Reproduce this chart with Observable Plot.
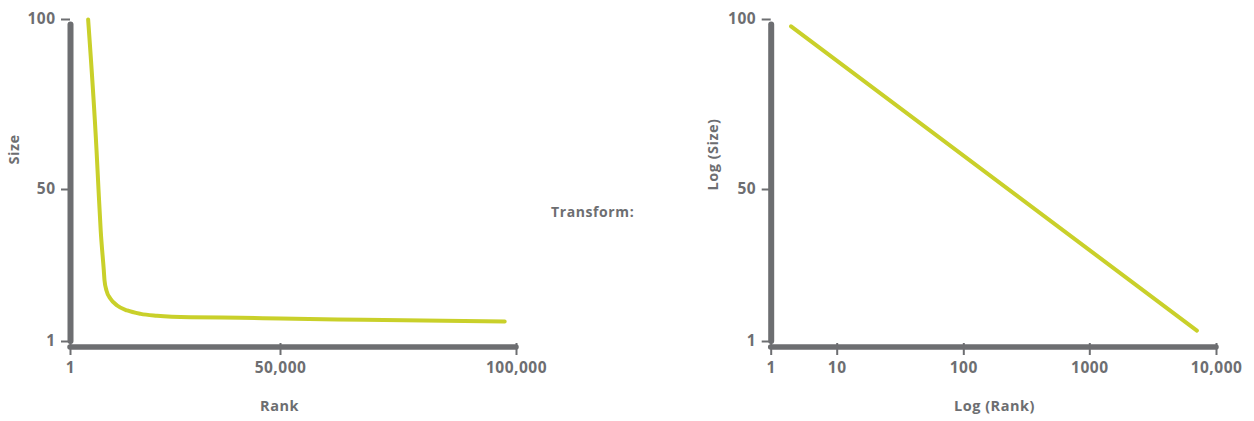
<!DOCTYPE html>
<html>
<head>
<meta charset="utf-8">
<script src="https://cdn.jsdelivr.net/npm/d3@7"></script>
<script src="https://cdn.jsdelivr.net/npm/@observablehq/plot@0.6"></script>
<style>
  html, body { margin: 0; padding: 0; background: #fff; }
  #wrap { position: relative; width: 1254px; height: 421px; overflow: hidden; font-family: "Open Sans", Lato, sans-serif; }
  #left, #right { position: absolute; top: 0; }
  #left { left: 0; }
  #right { left: 640px; }
  #transform { position: absolute; left: 551px; top: 202px; font-size: 14px; font-weight: 700; letter-spacing: 0.6px; color: #6d6e71; white-space: nowrap; }
</style>
</head>
<body>
<div id="wrap">
  <div id="left"></div>
  <div id="transform">Transform:</div>
  <div id="right"></div>
</div>
<script>
// ---- data ----
const linearRank = [4200, 6200, 6670, 7190, 7930, 8100, 8570, 9520, 11100, 13500, 16700, 20600, 28600, 40500, 50000, 67600, 97500];
const linearSize = [100, 61.5, 50, 36.8, 23.9, 20.7, 17.4, 14.8, 12.6, 11.0, 9.9, 9.3, 8.8, 8.65, 8.4, 8.0, 7.45];
const logRank = [2, 7000];
const logSize = [98, 4.5];

const sizeTicks = [1, 50, 100];
const rankTicks = [1, 50000, 100000];
const logRankTicks = [1, 10, 100, 1000, 10000];
const logRankLabels = ["1", "10", "100", "1000", "10,000"];

const GRAY = "#6d6e71";
const LINE = "#c9d02a";
const FONT = "'Open Sans', Lato, sans-serif";

const leftData = linearRank.map((r, i) => ({rank: r, size: linearSize[i]}));
const rightData = logRank.map((r, i) => ({rank: r, size: logSize[i]}));

const svgStyle = {fontFamily: FONT, fontSize: "15.5px", fontWeight: "700", letterSpacing: "0.5px", color: GRAY, background: "transparent", overflow: "visible"};

// ---- left chart ----
const left = Plot.plot({
  width: 640, height: 421,
  marginLeft: 70, marginRight: 124, marginTop: 19, marginBottom: 78,
  style: svgStyle,
  x: {type: "linear", domain: [1, 50000, 100000], range: [70, 280, 516], axis: null},
  y: {type: "linear", domain: [1, 50, 100], range: [341, 189, 19], axis: null},
  marks: [
    Plot.axisY({ticks: sizeTicks, tickSize: 9, tickPadding: 6, strokeWidth: 2, stroke: GRAY, fill: GRAY, label: null, tickFormat: d3.format(",")}),
    Plot.axisX({ticks: rankTicks, tickSize: 12, tickPadding: 6, strokeWidth: 2, stroke: GRAY, fill: GRAY, label: null, tickFormat: d3.format(",")}),
    Plot.ruleX([1], {y1: 1, y2: 100, stroke: GRAY, strokeWidth: 6, strokeLinecap: "round", insetBottom: -5.5}),
    Plot.ruleY([1], {x1: 1, x2: 100000, dy: 5.5, stroke: GRAY, strokeWidth: 5.5, strokeLinecap: "round"}),
    Plot.line(leftData, {x: "rank", y: "size", stroke: LINE, strokeWidth: 4, strokeLinecap: "round", curve: "monotone-x"}),
    Plot.text(["Size"], {frameAnchor: "left", dx: -56, dy: -17, rotate: -90, fill: GRAY, fontSize: 14.5, fontWeight: 700}),
    Plot.text(["Rank"], {frameAnchor: "bottom", dx: -14, dy: 67, fill: GRAY, fontSize: 14.5, fontWeight: 700})
  ]
});
document.getElementById("left").append(left);

// ---- right chart ----
const right = Plot.plot({
  width: 614, height: 421,
  marginLeft: 130.7, marginRight: 38, marginTop: 19, marginBottom: 78,
  style: svgStyle,
  x: {type: "log", domain: [1, 10, 100, 1000, 10000], range: [130.7, 196.7, 323.3, 449.3, 576], axis: null},
  y: {type: "linear", domain: [1, 50, 100], range: [341, 189, 19], axis: null},
  marks: [
    Plot.axisY({ticks: sizeTicks, tickSize: 9, tickPadding: 6, strokeWidth: 2, stroke: GRAY, fill: GRAY, label: null, tickFormat: d3.format(",")}),
    Plot.axisX({ticks: logRankTicks, tickSize: 12, tickPadding: 6, strokeWidth: 2, stroke: GRAY, fill: GRAY, label: null, tickFormat: d => logRankLabels[logRankTicks.indexOf(d)]}),
    Plot.ruleX([1], {y1: 1, y2: 100, stroke: GRAY, strokeWidth: 6, strokeLinecap: "round", insetBottom: -5.5}),
    Plot.ruleY([1], {x1: 1, x2: 10000, dy: 5.5, stroke: GRAY, strokeWidth: 5.5, strokeLinecap: "round"}),
    Plot.line(rightData, {x: "rank", y: "size", stroke: LINE, strokeWidth: 4, strokeLinecap: "round"}),
    Plot.text(["Log (Size)"], {frameAnchor: "left", dx: -57.7, dy: 9, rotate: -90, fill: GRAY, fontSize: 14.5, fontWeight: 700}),
    Plot.text(["Log (Rank)"], {frameAnchor: "bottom", dx: 0.6, dy: 67, fill: GRAY, fontSize: 14.5, fontWeight: 700})
  ]
});
document.getElementById("right").append(right);
</script>
</body>
</html>
